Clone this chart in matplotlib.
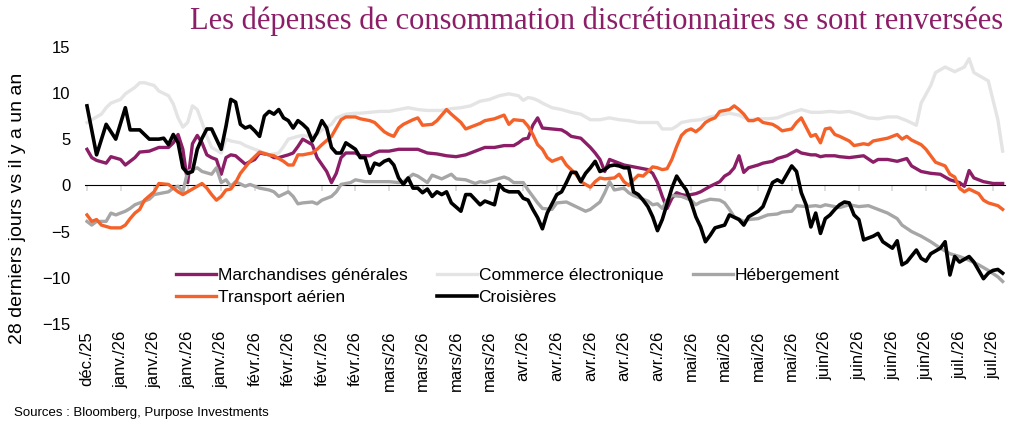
import matplotlib.pyplot as plt
import pandas as pd

plt.rcParams['font.family'] = ['Liberation Sans', 'DejaVu Sans']

# Données : (jours depuis le 31 déc. 2025, variation en %)
marchandises = [(0, 3.9), (1, 3.0), (2, 2.7), (4, 2.4), (5, 3.1), (7, 2.8), (8, 2.2), (10, 3.0),
                (11, 3.6), (13, 3.7), (15, 4.1), (17, 4.1), (18, 4.6), (19, 5.5), (20, 3.9), (21, 0.3),
                (22, 4.5), (23, 5.4), (24, 4.6), (25, 3.3), (26, 3.0), (27, 2.8), (28, 1.2), (29, 3.0),
                (30, 3.3), (31, 3.2), (33, 2.3), (35, 2.8), (36, 3.5), (38, 3.3), (39, 3.0), (40, 3.0),
                (42, 3.3), (43, 3.5), (44, 4.2), (45, 5.0), (47, 4.4), (48, 3.0), (50, 1.5), (51, 0.3),
                (52, 1.3), (53, 3.0), (54, 3.5), (56, 3.5), (57, 3.2), (59, 3.2), (60, 3.5), (61, 3.7),
                (63, 3.7), (65, 3.9), (67, 3.9), (69, 3.9), (71, 3.5), (73, 3.4), (75, 3.2), (77, 3.1),
                (79, 3.3), (81, 3.7), (83, 4.1), (85, 4.1), (87, 4.3), (89, 4.3), (90, 4.6), (91, 5.0),
                (92, 5.1), (93, 6.5), (94, 7.3), (95, 6.2), (97, 6.1), (99, 6.0), (100, 5.7), (101, 5.3),
                (103, 5.1), (104, 4.6), (105, 4.1), (106, 3.5), (107, 2.8), (108, 1.5), (109, 2.8),
                (110, 2.6), (112, 2.2), (113, 2.1), (115, 1.9), (117, 1.7), (118, 1.3), (119, 0.3),
                (120, -1.2), (121, -2.5), (122, -1.4), (123, -0.8), (124, -1.0), (125, -1.1), (127, -0.9),
                (128, -0.7), (130, -0.1), (132, 0.4), (133, 1.0), (134, 1.3), (135, 1.9), (136, 3.2),
                (137, 1.4), (138, 1.9), (140, 2.2), (141, 2.4), (143, 2.6), (144, 2.9), (146, 3.2),
                (148, 3.8), (149, 3.5), (151, 3.3), (152, 3.3), (153, 3.1), (154, 3.2), (156, 3.2),
                (157, 3.1), (159, 3.0), (162, 3.2), (164, 2.5), (165, 2.8), (167, 2.8), (169, 2.6),
                (171, 2.9), (172, 2.1), (174, 1.5), (176, 1.3), (178, 1.2), (180, 0.6), (182, 0.3),
                (183, -0.1), (184, 1.6), (185, 0.8), (187, 0.4), (189, 0.2), (191, 0.2)]

commerce = [(0, 6.8), (1, 7.1), (3, 7.7), (4, 8.4), (5, 8.9), (7, 9.3), (8, 9.9), (10, 10.6), (11, 11.1),
            (12, 11.1), (14, 10.8), (15, 10.2), (17, 9.7), (18, 8.8), (19, 7.3), (20, 6.3), (21, 6.8),
            (22, 8.6), (23, 8.2), (24, 6.8), (25, 5.3), (26, 4.1), (28, 3.5), (29, 5.0), (30, 4.8),
            (32, 4.6), (33, 4.3), (34, 4.1), (35, 3.9), (37, 3.5), (38, 3.3), (40, 3.5), (41, 4.2),
            (42, 5.0), (44, 5.3), (45, 5.4), (46, 5.3), (48, 5.5), (49, 6.0), (51, 6.6), (52, 7.3),
            (54, 7.7), (56, 7.8), (57, 7.8), (59, 7.9), (61, 8.0), (63, 8.0), (65, 8.2), (67, 8.4),
            (69, 8.2), (71, 8.1), (74, 8.1), (76, 8.3), (78, 8.4), (80, 8.6), (82, 9.1), (84, 9.3),
            (86, 9.7), (88, 9.9), (90, 9.7), (91, 9.2), (92, 9.5), (93, 9.4), (94, 9.2), (95, 8.9),
            (97, 8.4), (99, 8.2), (101, 7.9), (103, 7.7), (105, 7.1), (107, 7.1), (109, 7.3), (111, 7.1),
            (113, 7.0), (115, 6.8), (117, 6.8), (119, 6.8), (120, 6.1), (122, 6.1), (123, 6.4),
            (124, 6.8), (126, 7.0), (128, 7.1), (130, 7.4), (132, 7.6), (134, 7.8), (136, 7.6),
            (138, 7.1), (140, 7.2), (142, 7.2), (144, 7.3), (146, 7.7), (149, 8.2), (151, 7.9),
            (153, 7.9), (155, 8.0), (157, 7.9), (159, 8.0), (161, 7.7), (163, 7.3), (165, 7.2),
            (167, 7.4), (169, 7.4), (171, 7.0), (173, 6.5), (174, 8.9), (176, 10.8), (177, 12.2),
            (179, 12.8), (181, 12.3), (183, 12.8), (184, 13.7), (185, 12.2), (187, 11.6), (188, 11.3),
            (190, 7.1), (191, 3.7)]

hebergement = [(0, -3.9), (1, -4.3), (2, -3.9), (4, -3.9), (5, -3.0), (6, -3.2), (8, -2.8), (9, -2.5),
               (10, -2.1), (12, -1.7), (13, -1.5), (14, -1.0), (16, -0.8), (17, -0.7), (18, -0.3),
               (19, -0.1), (20, -0.7), (21, 1.5), (23, 1.9), (24, 1.5), (26, 1.2), (27, 1.9), (28, 0.3),
               (29, 0.6), (30, -0.1), (31, 0.4), (33, -0.1), (34, 0.1), (35, -0.1), (36, -0.3), (38, -0.5),
               (39, -0.7), (40, -1.2), (42, -0.7), (43, -1.2), (44, -2.0), (45, -1.9), (47, -1.8),
               (48, -2.0), (49, -1.6), (51, -1.2), (52, -0.7), (53, 0.1), (55, 0.3), (56, 0.6), (58, 0.4),
               (59, 0.4), (61, 0.4), (63, 0.4), (65, 0.3), (66, 0.4), (68, 1.2), (69, 1.0), (71, 0.3),
               (72, 1.1), (74, 0.7), (76, 1.2), (77, 0.7), (79, 0.6), (81, 0.2), (82, 0.4), (83, 0.3),
               (85, 0.6), (87, 0.9), (88, 0.7), (89, 0.3), (91, 0.3), (92, -0.5), (93, -1.2), (94, -1.9),
               (95, -2.5), (97, -2.6), (98, -1.9), (100, -1.8), (102, -2.3), (104, -2.8), (105, -2.6),
               (107, -1.8), (108, -0.8), (109, 0.4), (110, -0.5), (112, -0.3), (113, -0.8), (114, -1.1),
               (116, -1.5), (117, -1.7), (118, -2.1), (119, -2.0), (120, -2.5), (121, -1.6), (122, -1.1),
               (124, -1.2), (126, -1.6), (127, -2.1), (128, -1.8), (130, -1.5), (132, -1.6), (133, -1.9),
               (134, -2.6), (135, -3.4), (137, -3.9), (138, -3.7), (140, -3.6), (141, -3.4), (142, -3.2),
               (144, -3.1), (145, -2.9), (147, -2.8), (148, -2.2), (150, -2.3), (152, -2.2), (153, -2.3),
               (154, -2.1), (156, -2.3), (157, -2.4), (159, -2.1), (161, -2.3), (163, -2.2), (165, -2.6),
               (167, -3.0), (169, -3.6), (170, -4.3), (172, -5.0), (174, -5.5), (176, -6.1), (178, -6.8),
               (180, -7.4), (182, -7.7), (184, -8.1), (186, -8.6), (188, -9.2), (190, -9.9), (191, -10.4)]

transport = [(0, -3.2), (1, -3.9), (2, -3.7), (3, -4.3), (5, -4.6), (7, -4.6), (8, -4.3), (9, -3.6),
             (10, -3.0), (11, -2.6), (12, -1.6), (14, -0.7), (15, 0.2), (17, 0.1), (18, -0.3), (19, -0.7),
             (20, -1.0), (21, -0.7), (23, -0.1), (24, 0.2), (25, -0.3), (26, -1.0), (27, -1.6), (28, -1.2),
             (29, -0.5), (30, -0.4), (31, 0.3), (32, 1.3), (34, 2.6), (36, 3.6), (38, 3.3), (39, 3.2),
             (41, 2.6), (42, 2.2), (43, 2.2), (44, 3.3), (45, 3.3), (47, 3.5), (48, 3.9), (49, 4.4),
             (51, 5.3), (52, 6.2), (53, 7.1), (54, 7.4), (56, 7.4), (57, 7.2), (59, 7.0), (60, 6.8),
             (61, 6.3), (62, 5.8), (63, 5.5), (64, 5.3), (65, 6.2), (66, 6.6), (68, 7.1), (69, 7.3),
             (70, 6.5), (72, 6.6), (73, 7.0), (74, 7.6), (75, 8.2), (76, 7.7), (78, 6.8), (79, 6.1),
             (81, 6.5), (82, 6.7), (83, 7.0), (85, 7.2), (86, 7.4), (87, 7.6), (88, 6.6), (89, 7.1),
             (91, 7.0), (92, 6.4), (93, 5.5), (94, 4.4), (95, 3.9), (96, 3.0), (97, 2.6), (98, 2.8),
             (99, 3.0), (100, 2.2), (101, 1.7), (102, 1.2), (103, 0.4), (105, -0.2), (106, 0.4),
             (107, 0.8), (108, 0.7), (110, 0.8), (111, 1.2), (112, 0.4), (113, 0.0), (114, 0.6),
             (115, 1.1), (116, 1.0), (117, 1.5), (118, 2.0), (119, 1.9), (120, 1.7), (121, 1.8),
             (122, 2.8), (123, 4.2), (124, 5.4), (125, 5.9), (126, 6.1), (127, 5.8), (128, 6.2),
             (129, 6.8), (130, 7.1), (131, 7.3), (132, 8.0), (134, 8.2), (135, 8.6), (136, 8.2),
             (137, 7.7), (138, 7.0), (139, 7.0), (140, 7.2), (141, 6.8), (143, 6.6), (144, 6.3),
             (145, 5.9), (146, 6.0), (147, 6.1), (148, 6.8), (149, 7.3), (150, 6.3), (151, 5.3),
             (152, 5.5), (153, 4.6), (154, 6.1), (155, 6.2), (156, 5.5), (157, 5.3), (159, 4.8),
             (160, 4.3), (162, 4.5), (163, 4.4), (164, 4.8), (166, 5.0), (167, 5.1), (169, 5.5),
             (170, 5.0), (171, 5.3), (172, 4.9), (174, 4.4), (175, 3.9), (176, 3.2), (177, 2.5),
             (179, 2.1), (180, 1.2), (181, 0.9), (182, -0.3), (183, -0.7), (184, -0.4), (186, -0.9),
             (187, -1.6), (188, -1.9), (190, -2.2), (191, -2.6)]

croisieres = [(0, 8.6), (2, 3.3), (4, 6.6), (6, 5.0), (8, 8.4), (9, 6.0), (11, 6.0), (12, 5.5), (13, 5.0),
              (15, 5.0), (16, 5.1), (17, 4.4), (18, 5.5), (19, 4.6), (20, 1.9), (21, 1.3), (22, 1.5),
              (23, 3.9), (24, 5.1), (25, 6.1), (26, 6.1), (28, 3.9), (29, 6.4), (30, 9.3), (31, 9.0),
              (32, 6.6), (33, 6.2), (34, 6.4), (35, 5.9), (36, 5.3), (37, 7.5), (38, 8.0), (39, 7.7),
              (40, 8.2), (41, 7.3), (42, 7.0), (43, 6.2), (44, 7.0), (45, 6.6), (46, 6.1), (47, 4.8),
              (48, 5.7), (49, 7.0), (50, 6.2), (51, 4.1), (52, 3.5), (53, 3.5), (54, 4.6), (56, 3.9),
              (57, 3.0), (58, 3.0), (59, 1.3), (60, 2.4), (61, 2.2), (62, 2.6), (63, 2.8), (64, 2.2),
              (65, 0.8), (66, 0.1), (67, 0.8), (68, -0.3), (69, -0.3), (70, -0.8), (71, -0.4), (72, -1.2),
              (73, -0.7), (74, -1.0), (75, -0.7), (76, -1.9), (78, -2.8), (79, -1.0), (80, -1.0),
              (82, -2.1), (83, -1.7), (85, -2.1), (86, 0.1), (87, -0.5), (88, -0.7), (90, -0.7),
              (91, -1.4), (92, -1.6), (93, -2.6), (94, -3.5), (95, -4.7), (96, -3.0), (98, -1.0),
              (99, -0.7), (100, 0.3), (101, 1.4), (102, 1.4), (103, 0.4), (104, 1.3), (105, 1.9),
              (106, 2.6), (107, 1.5), (108, 1.7), (109, 2.1), (110, 2.2), (111, 2.1), (112, 1.9),
              (113, 1.9), (114, -0.7), (115, -1.0), (116, -1.6), (117, -2.3), (118, -3.4), (119, -4.9),
              (120, -3.7), (122, -0.3), (123, 1.0), (124, 0.2), (125, -0.5), (126, -1.8), (127, -3.4),
              (128, -4.5), (129, -6.1), (130, -5.4), (131, -4.6), (133, -4.3), (134, -3.2), (136, -3.7),
              (137, -4.3), (138, -3.4), (140, -2.8), (141, -2.3), (142, -1.0), (143, 0.3), (144, 0.6),
              (145, 0.3), (146, 1.2), (147, 2.1), (148, 1.5), (149, -0.8), (150, -2.1), (151, -4.5),
              (152, -3.0), (153, -5.2), (154, -3.6), (155, -3.2), (156, -2.6), (157, -2.1), (158, -1.8),
              (159, -1.9), (160, -3.2), (161, -3.7), (162, -5.9), (163, -5.7), (164, -5.5), (165, -5.2),
              (166, -6.1), (168, -6.8), (169, -6.0), (170, -8.6), (171, -8.3), (173, -7.0), (174, -7.9),
              (175, -8.2), (176, -7.4), (178, -6.8), (179, -6.1), (180, -9.7), (181, -7.7), (182, -8.3),
              (184, -7.7), (185, -8.3), (186, -9.2), (187, -10.1), (188, -9.5), (189, -9.2), (190, -9.1),
              (191, -9.5)]

series = [
    ('Marchandises générales', marchandises, '#8B1E66', 2.4),
    ('Commerce électronique', commerce, '#E4E4E4', 2.4),
    ('Hébergement', hebergement, '#A6A6A6', 2.4),
    ('Transport aérien', transport, '#F4622A', 2.4),
    ('Croisières', croisieres, '#000000', 2.6),
]

# Étiquettes de l'axe des x : une par semaine
mois = {12: 'déc.', 1: 'janv.', 2: 'févr.', 3: 'mars', 4: 'avr.', 5: 'mai', 6: 'juin', 7: 'juil.'}
debut = pd.Timestamp('2025-12-31')
dates_ticks = pd.date_range(debut, periods=28, freq='7D')
pos_ticks = [(d - debut).days for d in dates_ticks]
labels_ticks = [f"{mois[d.month]}/{d.strftime('%y')}" for d in dates_ticks]

fig = plt.figure(figsize=(10.24, 4.36), dpi=100)
ax = fig.add_axes([0.0826, 0.2569, 0.8989, 0.636])

lignes = {}
for nom, donnees, couleur, lw in series:
    x, y = zip(*donnees)
    lignes[nom], = ax.plot(x, y, color=couleur, lw=lw, solid_joinstyle='round', label=nom)

ax.set_xlim(-0.5, 191.5)
ax.set_ylim(-15, 15)
ax.set_yticks(range(-15, 16, 5))
for s in ax.spines.values():
    s.set_visible(False)
ax.tick_params(axis='y', length=0, pad=10, labelsize=12)
ax.set_xticks(pos_ticks)
ax.set_xticklabels(labels_ticks, rotation=90, fontsize=12)
ax.tick_params(axis='x', length=0, pad=5)

# Ligne du zéro avec petites graduations
axe0 = ax.secondary_xaxis(0.5)
axe0.set_xticks(pos_ticks)
axe0.set_xticklabels([])
axe0.spines['bottom'].set_color('#D9D9D9')
axe0.spines['bottom'].set_linewidth(1.2)
axe0.tick_params(direction='in', length=4, color='#D9D9D9', width=1.2)

ordre = ['Marchandises générales', 'Transport aérien', 'Commerce électronique', 'Croisières', 'Hébergement']
ax.legend([lignes[n] for n in ordre], ordre, ncol=3, frameon=False, fontsize=12.5,
          loc='upper left', bbox_to_anchor=(176 / 1024, 1 - 268 / 436), bbox_transform=fig.transFigure,
          borderpad=0, borderaxespad=0, handlelength=2.3, handletextpad=0.1, columnspacing=1.7,
          labelspacing=0.4)

fig.text(1003 / 1024, 1 - 21 / 436, 'Les dépenses de consommation discrétionnaires se sont renversées',
         family='Liberation Serif', fontsize=22, color='#8B1E66', ha='right', va='center')
fig.text(0.017, 1 - 208 / 436, '28 derniers jours vs il y a un an', rotation=90, fontsize=14,
         ha='center', va='center')
fig.text(14 / 1024, 1 - 413 / 436, 'Sources : Bloomberg, Purpose Investments', fontsize=9.5,
         ha='left', va='center')

fig.savefig('out.png', dpi=100)
